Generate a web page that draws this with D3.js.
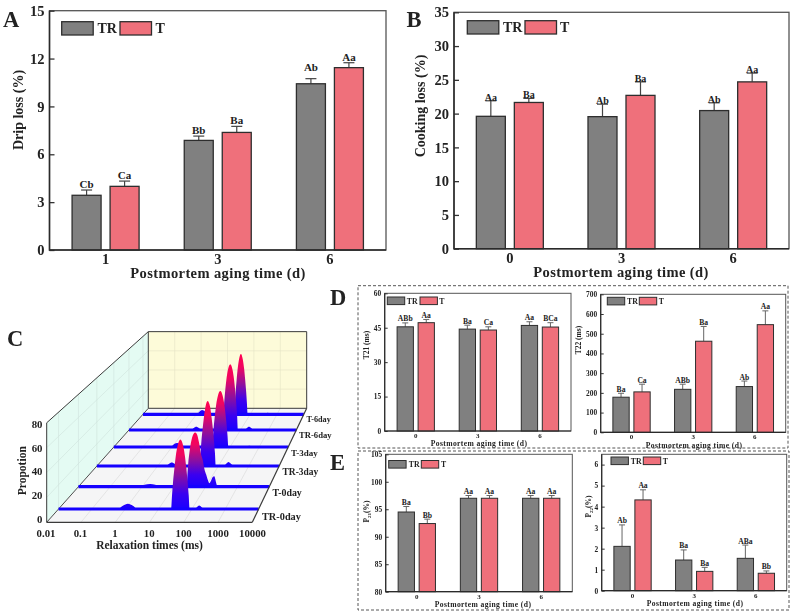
<!DOCTYPE html>
<html><head><meta charset="utf-8">
<script src="https://cdn.jsdelivr.net/npm/d3@7/dist/d3.min.js"></script>
<style>
html,body{margin:0;padding:0;background:#fff}
svg{display:block}
text{font-family:"Liberation Serif","Times New Roman",serif;font-weight:bold;fill:#222}
</style></head><body>
<svg id="c" width="791" height="612"></svg>
<script>
// ---------- data ----------
const seriesNames = ["TR", "T"];
const agingA = ["1", "3", "6"];
const agingOther = ["0", "3", "6"];

const dripTR = [3.43, 6.87, 10.42], dripTRErr = [0.33, 0.27, 0.32], dripTRSig = ["Cb", "Bb", "Ab"];
const dripT = [3.99, 7.37, 11.43], dripTErr = [0.33, 0.38, 0.31], dripTSig = ["Ca", "Ba", "Aa"];

const cookTR = [19.6, 19.55, 20.45], cookTRErr = [2.3, 1.85, 1.15], cookTRSig = ["Aa", "Ab", "Ab"];
const cookT = [21.65, 22.7, 24.7], cookTErr = [0.6, 2.0, 1.3], cookTSig = ["Ba", "Ba", "Aa"];

const t21TR = [45.4, 44.4, 46], t21TRErr = [1.7, 1.7, 1.6], t21TRSig = ["ABb", "Ba", "Aa"];
const t21T = [47.2, 44, 45.3], t21TErr = [1.4, 1.4, 1.9], t21TSig = ["Aa", "Ca", "BCa"];

const t22TR = [178, 218, 232], t22TRErr = [20, 26, 28], t22TRSig = ["Ba", "ABb", "Ab"];
const t22T = [205, 462, 546], t22TErr = [39, 75, 70], t22TSig = ["Ca", "Ba", "Aa"];

const p21TR = [94.5, 97, 97], p21TRErr = [1, 0.5, 0.5], p21TRSig = ["Ba", "Aa", "Aa"];
const p21T = [92.4, 97, 97], p21TErr = [0.8, 0.5, 0.5], p21TSig = ["Bb", "Aa", "Aa"];

const p22TR = [2.11, 1.46, 1.54], p22TRErr = [1.02, 0.48, 0.63], p22TRSig = ["Ab", "Ba", "ABa"];
const p22T = [4.32, 0.92, 0.83], p22TErr = [0.48, 0.19, 0.11], p22TSig = ["Aa", "Ba", "Bb"];

// relaxation spectra: time (ms) and proportion
const nmrNames = ["TR-0day", "T-0day", "TR-3day", "T-3day", "TR-6day", "T-6day"];
const nmrTimeTicks = [0.01, 0.1, 1, 10, 100, 1000, 10000];
const nmrPropTicks = [0, 20, 40, 60, 80];

const tr0Time = [0.01, 0.6, 0.85, 1.2, 1.7, 2.3, 23.7, 25.3, 26.9, 29.6, 32.5, 36.9, 45, 54.8, 62.1, 68.2, 74.9, 79.8, 84.9, 120, 165, 230, 300, 10000];
const tr0Prop = [0, 0, 2.6, 4.3, 2.6, 0, 0, 11.5, 21, 33, 43, 52, 57.5, 52, 43, 33, 21, 11.5, 0, 0, 2.8, 0, 0, 0];
const t0Time = [0.01, 0.7, 1.2, 1.8, 2.6, 4, 25.3, 26.5, 28.3, 31, 35.6, 41, 47, 54, 62, 71, 80, 92, 103, 118, 130, 146, 167, 186, 215, 235, 10000];
const t0Prop = [0, 0, 1.6, 2.4, 1.6, 0, 0, 9, 20, 30, 40, 45.5, 47, 45, 38, 28.5, 23.5, 15, 10.8, 5.5, 3, 5, 8.5, 9, 3, 0, 0];
const tr3Time = [0.01, 1.9, 2.4, 2.9, 3.6, 4.6, 24.2, 25.8, 27.5, 30.3, 33.3, 37.7, 44, 53, 59.6, 65.6, 72, 76.9, 82, 150, 180, 214, 260, 320, 10000];
const tr3Prop = [0, 0, 2, 3.1, 2, 0, 0, 12, 22, 34, 44, 54, 59, 54, 44, 34, 22, 12, 0, 0, 2, 3.6, 2, 0, 0];
const t3Time = [0.01, 0.9, 1.2, 1.5, 2, 2.6, 24.2, 25.9, 27.5, 30.3, 33.2, 37.7, 46, 56, 63.5, 69.7, 76.6, 81.6, 86.8, 300, 460, 700, 10000];
const t3Prop = [0, 0, 2.8, 3.8, 2.6, 0, 0, 10.6, 19.6, 31, 40, 48, 53, 48, 40, 31, 19.6, 10.6, 0, 0, 1.3, 0, 0];
const tr6Time = [0.01, 1.7, 2.1, 2.6, 3.2, 4, 22.5, 24, 25.5, 28, 30.8, 35, 42.7, 52, 59, 64.7, 71, 75.7, 80.5, 140, 170, 200, 240, 290, 10000];
const tr6Prop = [0, 0, 2, 3.2, 2, 0, 0, 13, 24, 38, 49, 59, 65, 59, 49, 38, 24, 13, 0, 0, 2, 3.2, 2, 0, 0];
const t6Time = [0.01, 1, 1.3, 1.6, 2.1, 2.7, 25.4, 27, 28.6, 31.3, 34, 38.2, 45, 53, 59.5, 64.7, 70.8, 75, 80, 320, 455, 620, 10000];
const t6Prop = [0, 0, 3, 4.5, 2.8, 0, 0, 12.4, 23, 36, 46.5, 56.4, 62, 56.4, 46.5, 36, 23, 12.4, 0, 0, 1.6, 0, 0];

// ---------- helpers ----------
const svg = d3.select("#c");
const FILL = {TR:"#808080", T:"#ef707b"};
const INK = "#2e2e2e";
const sub = (sel, parts) => parts.forEach(p => {
  if (p[1]) sel.append("tspan").attr("dy", p[2]).attr("font-size", p[3]).text(p[0]);
  else sel.append("tspan").attr("dy", p[2]||0).text(p[0]);
});

function barPanel(o){
  const g = svg.append("g").style("filter", `blur(${o.blur}px)`);
  const x = d3.scaleBand().domain(o.cats).range([o.l, o.r]);
  const y = d3.scaleLinear().domain(o.dom).range([o.b, o.t]);
  const half = o.off;
  g.append("rect").attr("x", o.l).attr("y", o.t).attr("width", o.r-o.l).attr("height", o.b-o.t)
    .attr("fill", "#fff").attr("stroke", "#555").attr("stroke-width", o.frame);

  const series = [
    {name:"TR", v:o.tr, e:o.trE, s:o.trS, dx:-half},
    {name:"T", v:o.tv, e:o.tE, s:o.tS, dx:half}
  ];
  series.forEach(s => {
    const cx = i => x(o.cats[i]) + x.bandwidth()/2 + s.dx;
    s.v.forEach((val, i) => {
      g.append("line").attr("x1", cx(i)).attr("x2", cx(i))
        .attr("y1", y(val)).attr("y2", y(val+s.e[i]))
        .attr("stroke", o.errColor).attr("stroke-width", o.errW);
      g.append("line").attr("x1", cx(i)-o.cap).attr("x2", cx(i)+o.cap)
        .attr("y1", y(val+s.e[i])).attr("y2", y(val+s.e[i]))
        .attr("stroke", o.errColor).attr("stroke-width", o.errW);
      g.append("rect").attr("x", cx(i)-o.bw/2).attr("y", y(val))
        .attr("width", o.bw).attr("height", y(o.dom[0])-y(val))
        .attr("fill", FILL[s.name]).attr("stroke", INK).attr("stroke-width", o.stroke);
      const extra = (o.lift && o.lift[s.name+i]) || 0;
      g.append("text").attr("x", cx(i)).attr("y", y(val+s.e[i]) - o.gap - extra)
        .attr("text-anchor", "middle").attr("font-size", o.sigSize).text(s.s[i]);
    });
  });

  const ya = d3.axisLeft(y).tickValues(o.ticks).tickSize(-o.tick).tickPadding(o.pad).tickSizeOuter(0).tickFormat(d3.format("d"));
  const gy = g.append("g").attr("transform", `translate(${o.l},0)`).call(ya);
  gy.select(".domain").remove();
  gy.selectAll("line").attr("stroke", "#333").attr("stroke-width", o.frame);
  gy.selectAll("text").attr("font-size", o.yFont).attr("fill", "#222").attr("font-family", '"Liberation Serif"');

  const xa = d3.axisBottom(x).tickSize(0).tickPadding(o.xPad);
  const gx = g.append("g").attr("transform", `translate(0,${o.b})`).call(xa);
  gx.select(".domain").remove();
  gx.selectAll("text").attr("font-size", o.xFont).attr("fill", "#222").attr("font-family", '"Liberation Serif"');

  // darker left and bottom axes
  g.append("path").attr("d", `M${o.l},${o.t}V${o.b}H${o.r}`).attr("fill","none").attr("stroke","#2a2a2a").attr("stroke-width",o.frame+0.2);

  g.append("text").attr("x", o.xtX).attr("y", o.xtY).attr("text-anchor", "middle")
    .attr("font-size", o.xtFont).attr("letter-spacing", o.xtLs||0).text("Postmortem aging time (d)");

  const yt = g.append("text").attr("transform", `translate(${o.ytX},${o.ytY}) rotate(-90)`)
    .attr("text-anchor", "middle").attr("font-size", o.ytFont);
  sub(yt, o.ytParts);

  seriesNames.forEach((n, i) => {
    const L = o.leg[i];
    g.append("rect").attr("x", L[0]).attr("y", o.legY).attr("width", o.legW).attr("height", o.legH)
      .attr("fill", FILL[n]).attr("stroke", INK).attr("stroke-width", o.stroke);
    g.append("text").attr("x", L[1]).attr("y", o.legY + o.legH/2).attr("dy", "0.35em")
      .attr("font-size", o.legFont).text(n);
  });
}

// ---------- A, B ----------
const bigStyle = {blur:0.4, bw:29, off:19, cap:5.5, gap:2, sigSize:11, frame:1.3, stroke:1.3, errW:1.2, errColor:"#444",
  tick:5, pad:5, yFont:14.5, xFont:14.5, xPad:4, xtFont:14.5, xtLs:0.4, ytFont:14, legW:31.5, legH:13.3, legFont:14};

barPanel({...bigStyle, cats:agingA, l:49.5, r:386, t:10.7, b:250, dom:[0,15], ticks:[0,3,6,9,12,15],
  tr:dripTR, trE:dripTRErr, trS:dripTRSig, tv:dripT, tE:dripTErr, tS:dripTSig,
  lift:{TR2:6}, xtX:218, xtY:277.5, ytX:23, ytY:110, ytParts:[["Drip loss (%)"]],
  leg:[[61.7,97.5],[120,155.5]], legY:21.7});

barPanel({...bigStyle, cats:agingOther, l:454, r:789, t:12.3, b:248.7, dom:[0,35], ticks:[0,5,10,15,20,25,30,35],
  tr:cookTR, trE:cookTRErr, trS:cookTRSig, tv:cookT, tE:cookTErr, tS:cookTSig, gap:0, sigSize:10,
  xtX:621, xtY:276.5, ytX:425, ytY:106, ytParts:[["Cooking loss (%)"]],
  leg:[[467.3,503],[525,560]], legY:20.7});

// ---------- D, E ----------
const smallStyle = {blur:0.55, bw:16.3, off:10.5, cap:3, gap:1.5, sigSize:7.6, frame:1, stroke:1, errW:1, errColor:"#666",
  tick:3, pad:3.5, yFont:7.4, xFont:7, xPad:2, xtFont:7.6, xtLs:0.4, ytFont:7.5, legW:17.4, legH:7.6, legFont:7.8};

barPanel({...smallStyle, cats:agingOther, l:384.7, r:571, t:293.3, b:431, dom:[0,60], ticks:[0,15,30,45,60],
  tr:t21TR, trE:t21TRErr, trS:t21TRSig, tv:t21T, tE:t21TErr, tS:t21TSig,
  xtX:479, xtY:446.2, ytX:369, ytY:345, ytParts:[["T21 (ms)"]],
  leg:[[387.3,406.7],[420,439.3]], legY:297});

barPanel({...smallStyle, cats:agingOther, l:600.7, r:785.7, t:294.3, b:432.3, dom:[0,700], ticks:[0,100,200,300,400,500,600,700],
  tr:t22TR, trE:t22TRErr, trS:t22TRSig, tv:t22T, tE:t22TErr, tS:t22TSig,
  xtX:694, xtY:447.5, ytX:581, ytY:340, ytParts:[["T22 (ms)"]],
  leg:[[607.3,627],[639.3,658.7]], legY:297.3});

barPanel({...smallStyle, cats:agingOther, l:385.7, r:572.3, t:454.3, b:591.7, dom:[80,105], ticks:[80,85,90,95,100,105],
  tr:p21TR, trE:p21TRErr, trS:p21TRSig, tv:p21T, tE:p21TErr, tS:p21TSig,
  xtX:483, xtY:607, ytX:369, ytY:511.5, ytParts:[["P"],["21",1,1.5,5],["(%)",0,-1.5]],
  leg:[[388.7,408.7],[421.3,441]], legY:460.5});

barPanel({...smallStyle, cats:agingOther, l:601.7, r:786.7, t:454.3, b:590.7, dom:[0,6.49], ticks:[0,1,2,3,4,5,6],
  tr:p22TR, trE:p22TRErr, trS:p22TRSig, tv:p22T, tE:p22TErr, tS:p22TSig,
  xtX:695, xtY:606, ytX:591, ytY:506.5, ytParts:[["P"],["22",1,1.5,5],["(%)",0,-1.5]],
  leg:[[611,630.7],[643.3,662.7]], legY:457});

// dashed boxes
[[358,285.7,430,162.3],[358,451,431,159]].forEach(b => {
  svg.append("rect").attr("x",b[0]).attr("y",b[1]).attr("width",b[2]).attr("height",b[3])
    .attr("fill","none").attr("stroke","#444").attr("stroke-width",0.9).attr("stroke-dasharray","3 2");
});

// panel letters
[["A",3,26.7],["B",406.5,26.7],["C",7,345.7],["D",330,305],["E",330,470]].forEach(l => {
  svg.append("text").attr("x",l[1]).attr("y",l[2]).attr("font-size",22.5).attr("fill","#111").text(l[0]);
});

// ---------- C: ridge spectra ----------
const nmr = [[tr0Time,tr0Prop],[t0Time,t0Prop],[tr3Time,tr3Prop],[t3Time,t3Prop],[tr6Time,tr6Prop],[t6Time,t6Prop]];
const frontY = 522.3, backY = 408.3;
const depthBase = d3.scaleLinear().domain([0,1,2,3,4,5]).range([509,486.7,466,447,430,414.3]);
const leftAt = d3.scaleLinear().domain([frontY,backY]).range([46.7,148.3]);
const rightAt = d3.scaleLinear().domain([frontY,backY]).range([252.3,306.7]);
const uScale = d3.scaleLog().domain([0.01,10000]).range([0,1]);
const hAt = yb => (rightAt(yb)-leftAt(yb))/(rightAt(frontY)-leftAt(frontY)) * 99.5/80;
const px = (t, yb) => leftAt(yb) + uScale(t)*(rightAt(yb)-leftAt(yb));
const py = (v, yb) => yb - v*hAt(yb);

const c = svg.append("g").style("filter","blur(0.4px)");
const defs = svg.append("defs");
const wall = (pts, fill) => c.append("polygon").attr("points", pts.map(p=>p.join(",")).join(" ")).attr("fill", fill);
const LT = [px(0.01,frontY), py(80,frontY)], LB=[px(0.01,frontY),frontY];
const BLB=[px(0.01,backY),backY], BLT=[px(0.01,backY),py(80,backY)];
const BRB=[px(10000,backY),backY], BRT=[px(10000,backY),py(80,backY)];
const FRB=[px(10000,frontY),frontY];
wall([LB,LT,BLT,BLB], "#e4fbf3");
wall([BLB,BLT,BRT,BRB], "#fdfbd9");
wall([LB,BLB,BRB,FRB], "#f5f5f6");
const grid = (a,b,col) => c.append("line").attr("x1",a[0]).attr("y1",a[1]).attr("x2",b[0]).attr("y2",b[1]).attr("stroke",col).attr("stroke-width",0.6);
nmrPropTicks.slice(1,-1).forEach(v => {
  grid([px(0.01,frontY),py(v,frontY)],[px(0.01,backY),py(v,backY)],"#cfe3dc");
  grid([px(0.01,backY),py(v,backY)],[px(10000,backY),py(v,backY)],"#e4e2c4");
});
nmrTimeTicks.slice(1,-1).forEach(t => {
  grid([px(t,frontY),frontY],[px(t,backY),backY],"#d9d9d9");
  grid([px(t,backY),backY],[px(t,backY),py(80,backY)],"#e4e2c4");
});
nmrNames.forEach((n,i) => {
  const yb = depthBase(i);
  grid([px(0.01,yb),yb],[px(0.01,yb),py(80,yb)],"#cfe3dc");
});
// frame behind the ridges
const edge = (a,b,w) => c.append("line").attr("x1",a[0]).attr("y1",a[1]).attr("x2",b[0]).attr("y2",b[1]).attr("stroke","#3a3a3a").attr("stroke-width",w);
edge(LT,BLT,1); edge(BLT,BRT,1); edge(BRT,BRB,1); edge(BLT,BLB,1); edge(BLB,BRB,1); edge(LB,BLB,0.9);

// ridges, back to front
d3.range(5,-1,-1).forEach(i => {
  const yb = depthBase(i);
  const [ts,vs] = nmr[i];
  const pts = ts.map((t,k)=>[t,vs[k]]);
  const id = "ridge"+i;
  const grad = defs.append("linearGradient").attr("id",id).attr("gradientUnits","userSpaceOnUse")
    .attr("x1",0).attr("x2",0).attr("y1",yb).attr("y2",py(d3.max(vs),yb));
  grad.append("stop").attr("offset","0%").attr("stop-color","#1a00ff");
  grad.append("stop").attr("offset","22%").attr("stop-color","#3a00f0");
  grad.append("stop").attr("offset","50%").attr("stop-color","#90109c");
  grad.append("stop").attr("offset","78%").attr("stop-color","#f00660");
  grad.append("stop").attr("offset","100%").attr("stop-color","#ff0050");
  const area = d3.area().x(d=>px(d[0],yb)).y0(yb).y1(d=>py(d[1],yb)).curve(d3.curveMonotoneX);
  c.append("path").attr("d",area(pts)).attr("fill",`url(#${id})`);
  c.append("line").attr("x1",px(0.01,yb)).attr("x2",px(10000,yb)).attr("y1",yb).attr("y2",yb)
    .attr("stroke","#1500ff").attr("stroke-width",3.2);
  const fs = d3.scaleLinear().domain([0,5]).range([10.3,8.2])(i);
  const lx = d3.scaleLinear().domain([0,1,2,3,4,5]).range([262,272.5,282.5,291,299,306.5])(i);
  const ly = d3.scaleLinear().domain([0,1,2,3,4,5]).range([516,493,472,453,435.3,419])(i);
  c.append("text").attr("x",lx).attr("y",ly).attr("dy","0.35em").attr("font-size",fs).attr("fill","#333").text(nmrNames[i]);
});
edge(LT,LB,1); edge(LB,FRB,1.2); edge(FRB,BRB,1.2);

const tx = d3.scaleLog().domain([0.01,10000]).range([46,252.5]);
nmrTimeTicks.forEach(t => c.append("text").attr("x",tx(t)).attr("y",533.5).attr("dy","0.35em")
  .attr("text-anchor","middle").attr("font-size",10.8).attr("fill","#222").text(t));
const ty = d3.scaleLinear().domain([0,80]).range([519,424]);
nmrPropTicks.forEach(v => c.append("text").attr("x",42.5).attr("y",ty(v)).attr("dy","0.35em")
  .attr("text-anchor","end").attr("font-size",10.8).attr("fill","#222").text(v));
c.append("text").attr("x",149.5).attr("y",549).attr("text-anchor","middle").attr("font-size",11.5).text("Relaxation times (ms)");
c.append("text").attr("transform","translate(26,470.7) rotate(-90)").attr("text-anchor","middle").attr("font-size",11.5).text("Propotion");
</script>
</body></html>
